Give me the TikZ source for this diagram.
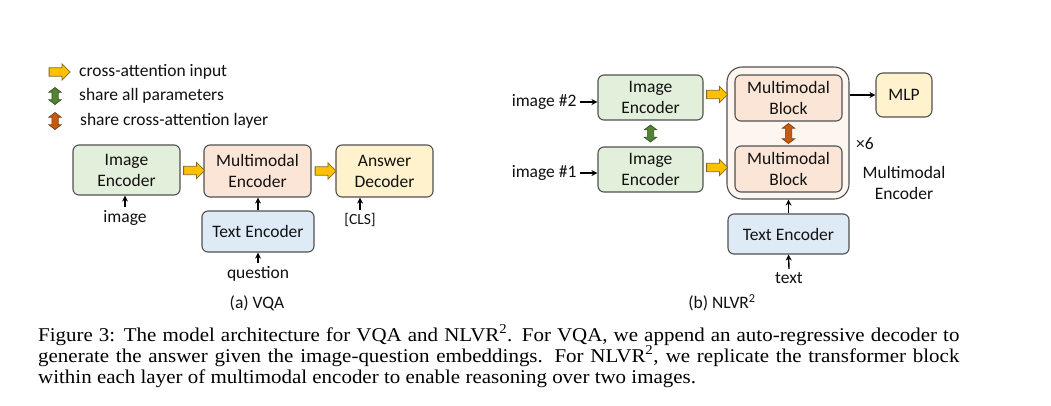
\documentclass[tikz,border=0pt]{standalone}
\usepackage{graphicx}
\usepackage{fontspec}
\setmainfont{Carlito}
\newfontfamily\capfont{Liberation Serif}
\usetikzlibrary{shapes.arrows,arrows.meta,calc}
\definecolor{gfill}{HTML}{E2EFDA}
\definecolor{ofill}{HTML}{FBE5D6}
\definecolor{yfill}{HTML}{FFF2CC}
\definecolor{bfill}{HTML}{DEEBF7}
\definecolor{cfill}{HTML}{FDF5F0}
\definecolor{bord}{HTML}{505050}
\definecolor{yarr}{HTML}{FFC000}
\definecolor{yarrb}{HTML}{7F6A2A}
\definecolor{garr}{HTML}{548235}
\definecolor{garrb}{HTML}{385723}
\definecolor{oarr}{HTML}{C55A11}
\definecolor{oarrb}{HTML}{843C0C}
\definecolor{txt}{HTML}{111111}
\begin{document}
\begin{tikzpicture}[x=1pt,y=-1pt,
  every node/.style={font=\fontsize{17.5}{21}\selectfont, text=txt},
  box/.style={draw=bord, line width=1.1pt, rounded corners=6pt, align=center, inner sep=0pt},
  yarrow/.style={single arrow, draw=yarrb, fill=yarr, line width=0.8pt, minimum height=21pt,
    single arrow head extend=4pt, inner xsep=0pt, inner ysep=3.8pt},
  garrow/.style={double arrow, draw=garrb, fill=garr, line width=0.7pt, minimum height=17pt,
    double arrow head extend=3pt, double arrow tip angle=105, inner xsep=0pt, inner ysep=2.8pt, rotate=90},
  oarrow/.style={double arrow, draw=oarrb, fill=oarr, line width=0.7pt, minimum height=20pt,
    double arrow head extend=3pt, double arrow tip angle=105, inner xsep=0pt, inner ysep=2.8pt, rotate=90},
  tarr/.style={-{Stealth[length=6pt,width=6pt]}, line width=1.4pt, draw=black},
  capline/.style={anchor=base west, inner sep=0pt, text=black, font=\capfont\fontsize{19.5}{21}\selectfont}
]
\fill[white] (0,0) rectangle (1051,405);
\useasboundingbox (0,0) rectangle (1051,405);

% legend
\node[yarrow] (l1) at (57.5,72) {};
\node[garrow] (l2) at (55,96) {};
\node[oarrow, minimum height=17pt] (l3) at (55,121) {};
\node[anchor=west, inner sep=0pt] (lt1) at (79,72) {cross-attention input};
\node[anchor=west, inner sep=0pt] (lt2) at (79,96) {share all parameters};
\node[anchor=west, inner sep=0pt] (lt3) at (80,121) {share cross-attention layer};

% (a) VQA
\node[box, fill=gfill, minimum width=107pt, minimum height=50pt] (ie) at (126.5,170) {Image\\Encoder};
\node[box, fill=ofill, minimum width=107pt, minimum height=52pt] (me) at (257.5,171) {Multimodal\\Encoder};
\node[box, fill=yfill, minimum width=97pt, minimum height=52pt] (ad) at (384.5,171) {Answer\\Decoder};
\node[box, fill=bfill, minimum width=112pt, minimum height=41pt] (te) at (258,231.5) {Text Encoder};
\node (img) at (125,218) {image};
\node (q) at (258,274) {question};
\node[font=\fontsize{15.5}{18}\selectfont] (cls) at (360,220) {[CLS]};
\node (capa) at (257,303) {(a) VQA};
\node[yarrow] (y1) at ($(ie.east)!0.5!(me.west)$) {};
\node[yarrow] (y2) at ($(me.east)!0.5!(ad.west)$) {};
\draw[tarr] (img.north) -- (img.north |- ie.south);
\draw[tarr] (te.north) -- (te.north |- me.south);
\draw[tarr] (q.north) -- (te.south);
\draw[tarr] (cls.north) -- (cls.north |- ad.south);

% (b) NLVR2
\node[box, fill=gfill, minimum width=105pt, minimum height=45pt] (ie2) at (650.5,97.5) {Image\\Encoder};
\node[box, fill=gfill, minimum width=105pt, minimum height=45pt] (ie1) at (650.5,169.5) {Image\\Encoder};
\node[anchor=east] (i2) at (580,102) {image \#2};
\node[anchor=east] (i1) at (580,173) {image \#1};
\draw[tarr] (i2.east) -- (i2.east -| ie2.west);
\draw[tarr] (i1.east) -- (i1.east -| ie1.west);
\node[garrow] (g) at ($(ie2.south)!0.5!(ie1.north)$) {};

\node[draw=bord, line width=1.1pt, rounded corners=15pt, fill=cfill, minimum width=122pt, minimum height=132pt, inner sep=0pt] (cont) at (788,133) {};
\node[box, fill=ofill, minimum width=107pt, minimum height=46pt] (mb2) at (788.5,98) {Multimodal\\Block};
\node[box, fill=ofill, minimum width=107pt, minimum height=46pt] (mb1) at (788.5,169) {Multimodal\\Block};
\node[oarrow] (o) at ($(mb2.south)!0.5!(mb1.north)$) {};
\node[yarrow, yshift=3pt] (y3) at ($(ie2.east)!0.5!(ie2.east -| cont.west)$) {};
\node[yarrow, yshift=2pt] (y4) at ($(ie1.east)!0.5!(ie1.east -| cont.west)$) {};

\node[box, fill=yfill, minimum width=56pt, minimum height=44pt, rounded corners=7pt] (mlp) at (904,95) {MLP};
\draw[tarr] (cont.east |- mlp.west) -- (mlp.west);
\node (x6) at (865,144) {×6};
\node[align=center] (mmlbl) at (904,183) {Multimodal\\Encoder};
\node[box, fill=bfill, minimum width=121pt, minimum height=40pt] (te2) at (788.5,234) {Text Encoder};
\draw[tarr] (te2.north) -- (te2.north |- cont.south);
\node (txtl) at (789,278) {text};
\draw[tarr] (txtl.north) -- (te2.south);
\node (capb) at (722,303) {(b) NLVR\textsuperscript{2}};

% caption
\node[capline] (c1) at (38,341) {\scalebox{1.075}[1]{\makebox[857pt][s]{Figure 3: The model architecture for VQA and NLVR\textsuperscript{2}. For VQA, we append an auto-regressive decoder to}}};
\node[capline] (c2) at (38,362) {\scalebox{1.075}[1]{\makebox[857pt][s]{generate the answer given the image-question embeddings. For NLVR\textsuperscript{2}, we replicate the transformer block}}};
\node[capline] (c3) at (38,383) {\scalebox{1.075}[1]{within each layer of multimodal encoder to enable reasoning over two images.}};
\end{tikzpicture}
\end{document}
